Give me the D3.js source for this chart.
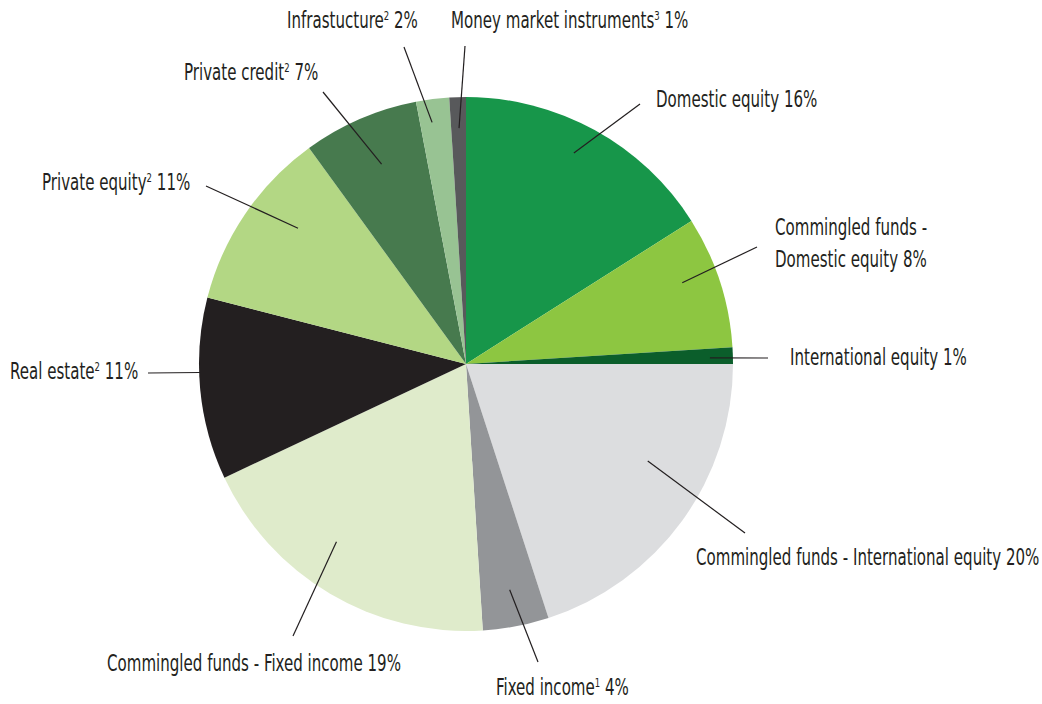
<!DOCTYPE html>
<html>
<head>
<meta charset="utf-8">
<script src="https://cdn.jsdelivr.net/npm/d3@7/dist/d3.min.js"></script>
<style>
  body { margin: 0; background: #fff; }
  text { font-family: "DejaVu Sans Condensed", "Liberation Sans Narrow", sans-serif; fill: #231f20; }
</style>
</head>
<body>
<div id="container"></div>
<script>
let w = 1042;
let h = 704;

// chart data
let categories = ["Domestic equity", "Commingled funds - Domestic equity", "International equity",
  "Commingled funds - International equity", "Fixed income", "Commingled funds - Fixed income",
  "Real estate", "Private equity", "Private credit", "Infrastucture", "Money market instruments"];
let values = [16, 8, 1, 20, 4, 19, 11, 11, 7, 2, 1];
let footnotes = ["", "", "", "", "1", "", "2", "2", "2", "2", "3"];
let colors = ["#17964a", "#8dc641", "#0b5e2b", "#dcdddf", "#939598", "#dfebcb",
  "#231f20", "#b3d784", "#477a4e", "#98c393", "#58595b"];

// label layout: t = position inside slice (0..1), r = inner radius of leader,
// x2,y2 = outer end of leader, tx,ty = text start, lines = text split
let labelLayout = [
  { t: 0.47, r: 237, x2: 640, y2: 104, tx: 656, ty: 107, lines: [["Domestic equity", "", " 16%"]] },
  { t: 0.41, r: 231, x2: 757, y2: 247, tx: 775, ty: 235, lines: [["Commingled funds -", "", ""], ["Domestic equity", "", " 8%"]] },
  { t: 0.60, r: 244, x2: 768, y2: 358, tx: 790, ty: 365, lines: [["International equity", "", " 1%"]] },
  { t: 0.39, r: 206, x2: 745, y2: 533, tx: 696, ty: 565, lines: [["Commingled funds - International equity", "", " 20%"]] },
  { t: 0.49, r: 230, x2: 538, y2: 662, tx: 496, ty: 695, lines: [["Fixed income", "1", " 4%"]] },
  { t: 0.58, r: 220, x2: 293, y2: 636, tx: 107, ty: 671, lines: [["Commingled funds - Fixed income", "", " 19%"]] },
  { t: 0.59, r: 266, x2: 148, y2: 373, tx: 10, ty: 379, lines: [["Real estate", "2", " 11%"]] },
  { t: 0.62, r: 216, x2: 206, y2: 186, tx: 42, ty: 190, lines: [["Private equity", "2", " 11%"]] },
  { t: 0.52, r: 217, x2: 323, y2: 92, tx: 184, ty: 80, lines: [["Private credit", "2", " 7%"]] },
  { t: 0.39, r: 244, x2: 404, y2: 47, tx: 287, ty: 28, lines: [["Infrastucture", "2", " 2%"]] },
  { t: 0.53, r: 236, x2: 465, y2: 46, tx: 451, ty: 28, lines: [["Money market instruments", "3", " 1%"]] }
];

let cx = 466;
let cy = 364;
let radius = 267;
let fontSize = 23;
let squeeze = 0.728; // narrow the fallback font to look like the condensed original

let viz = d3.select("#container")
  .append("svg")
  .attr("width", w)
  .attr("height", h);

let data = categories.map((c, i) => ({ name: c, value: values[i], color: colors[i], note: footnotes[i] }));

let pie = d3.pie().value(d => d.value).sort(null);
let arcs = pie(data);
let arc = d3.arc().innerRadius(0).outerRadius(radius);

let g = viz.append("g").attr("transform", `translate(${cx}, ${cy})`);

g.selectAll(".slice")
  .data(arcs)
  .enter()
  .append("path")
  .attr("class", "slice")
  .attr("d", arc)
  .attr("fill", d => d.data.color);

// leader lines + labels
arcs.forEach((a, i) => {
  let lay = labelLayout[i];
  let ang = a.startAngle + (a.endAngle - a.startAngle) * lay.t;
  let x1 = cx + lay.r * Math.sin(ang);
  let y1 = cy - lay.r * Math.cos(ang);
  viz.append("line")
    .attr("x1", x1)
    .attr("y1", y1)
    .attr("x2", lay.x2)
    .attr("y2", lay.y2)
    .attr("stroke", "#231f20")
    .attr("stroke-width", 1.2);

  lay.lines.forEach((ln, j) => {
    let t = viz.append("text")
      .attr("transform", `translate(${lay.tx}, ${lay.ty + j * 32}) scale(${squeeze}, 1)`)
      .attr("font-size", fontSize + "px");
    t.append("tspan").text(ln[0]);
    if (ln[1]) {
      t.append("tspan").text(ln[1]).attr("font-size", "13px").attr("dy", -8);
      t.append("tspan").text(ln[2]).attr("dy", 8);
    } else {
      t.append("tspan").text(ln[2]);
    }
  });
});
</script>
</body>
</html>
